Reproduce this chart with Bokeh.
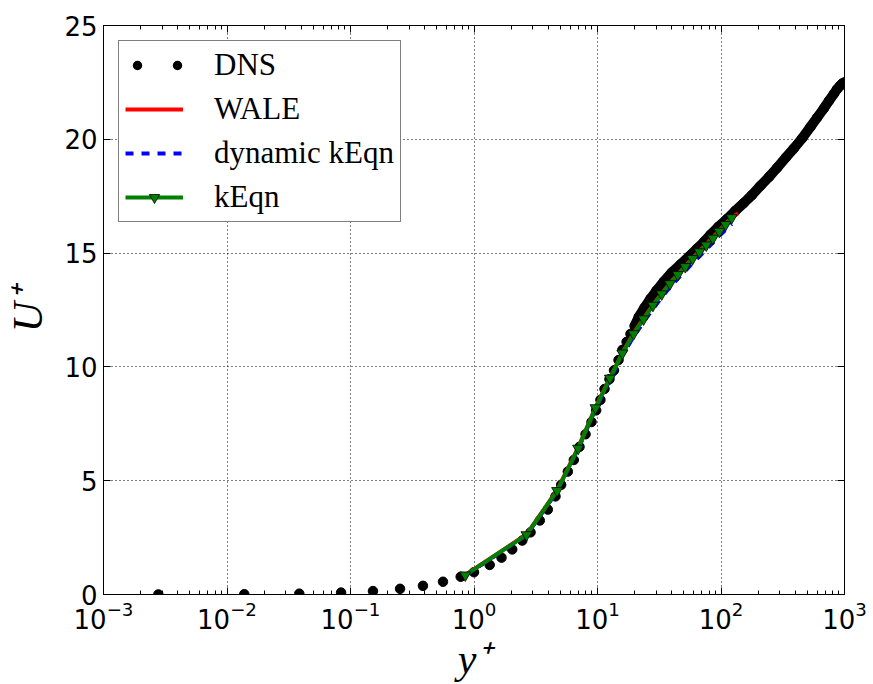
from bokeh.plotting import figure
from bokeh.models import (Range1d, FixedTicker, LogAxis, LinearAxis, Legend, LegendItem,
                          CustomJSTickFormatter)
from bokeh.embed import file_html
from bokeh.resources import INLINE

# ---------------- data ----------------
dns_yplus = [0.00278, 0.0138, 0.0385, 0.0839, 0.152, 0.252, 0.386, 0.561, 0.78,
             1.0, 1.34, 1.67, 2.04, 2.46, 2.87, 3.41, 3.96, 4.57, 5.08, 5.75, 6.43,
             7.15, 8.0, 8.94, 9.75, 10.56, 11.4, 12.5, 13.6, 14.8, 15.9, 17.2, 18.5,
             20.0, 21.6, 24.0, 26.9, 30.0, 34.4, 40.0, 47.0, 55.0, 64.0, 73.0, 82.0,
             95.0, 112.0, 130.0, 153.0, 178.0, 208.0, 245.0, 285.0, 335.0, 389.0,
             455.0, 531.0, 600.0, 679.0, 750.0, 820.0, 870.0, 920.0, 960.0, 1000.0]
dns_uplus = [0.003, 0.014, 0.038, 0.084, 0.15, 0.25, 0.38, 0.56, 0.78,
             0.98, 1.3, 1.62, 1.98, 2.37, 2.73, 3.25, 3.73, 4.31, 4.82, 5.4, 5.91,
             6.49, 7.04, 7.58, 8.09, 8.55, 9.03, 9.46, 9.85, 10.3, 10.75, 11.1, 11.45,
             11.8, 12.2, 12.6, 13.0, 13.35, 13.75, 14.15, 14.5, 14.85, 15.2, 15.5, 15.8,
             16.15, 16.5, 16.85, 17.2, 17.55, 17.95, 18.35, 18.75, 19.2, 19.6,
             20.05, 20.55, 20.95, 21.35, 21.7, 22.0, 22.2, 22.35, 22.45, 22.5]

les_yplus = [0.85, 2.66, 4.71, 6.97, 9.64, 12.6, 15.9, 19.6, 23.6, 28.1, 33.1,
             38.6, 44.7, 51.4, 58.8, 67.0, 76.0, 86.0, 97.0, 109.0, 122.0]
wale_yplus = les_yplus + [137.0]
wale_uplus = [0.86, 2.64, 4.58, 6.45, 8.22, 9.52, 10.62, 11.48, 12.13, 12.73, 13.23,
              13.68, 14.08, 14.43, 14.78, 15.1, 15.4, 15.7, 16.0, 16.3, 16.55, 16.75]
dyn_uplus = [0.84, 2.6, 4.53, 6.38, 8.15, 9.43, 10.5, 11.33, 11.97, 12.55, 13.05,
             13.5, 13.88, 14.22, 14.56, 14.86, 15.16, 15.46, 15.76, 16.02, 16.28]
keqn_uplus = [0.85, 2.62, 4.56, 6.42, 8.2, 9.5, 10.6, 11.45, 12.1, 12.7, 13.2,
              13.65, 14.05, 14.4, 14.75, 15.05, 15.35, 15.65, 15.95, 16.25, 16.55]

x_ticks = [1e-3, 1e-2, 1e-1, 1e0, 1e1, 1e2, 1e3]
y_ticks = [0, 5, 10, 15, 20, 25]
x_minor = [m * 10.0 ** e for e in range(-3, 3) for m in range(2, 10)]

# ---------------- figure ----------------
p = figure(width=873, height=684, x_axis_type="log",
           x_range=Range1d(1e-3, 1e3), y_range=Range1d(0, 25),
           output_backend="svg", toolbar_location=None,
           min_border_left=103, min_border_right=29,
           min_border_top=25, min_border_bottom=85)
p.background_fill_color = "white"
p.border_fill_color = "white"
p.outline_line_color = "black"
p.outline_line_width = 1

xt = FixedTicker(ticks=x_ticks, minor_ticks=x_minor)
yt = FixedTicker(ticks=y_ticks)

tick_font = "DejaVu Sans"
tick_size = "26px"

for ax in (p.xaxis[0], p.yaxis[0]):
    ax.major_tick_in = 7
    ax.major_tick_out = 0
    ax.minor_tick_in = 4
    ax.minor_tick_out = 0
    ax.axis_line_color = "black"
    ax.major_tick_line_color = "black"
    ax.minor_tick_line_color = "black"
    ax.major_label_text_font = tick_font
    ax.major_label_text_font_size = tick_size
    ax.major_label_text_color = "black"
    ax.axis_label_text_font = "Liberation Serif"
    ax.axis_label_text_font_style = "italic"
    ax.axis_label_text_font_size = "42px"
    ax.axis_label_text_color = "black"

p.xaxis[0].ticker = xt
p.yaxis[0].ticker = yt
p.yaxis[0].minor_tick_line_color = None
p.xaxis[0].axis_label = "y\u207a"
p.yaxis[0].axis_label = "U\u207a"
p.xaxis[0].major_label_standoff = 6
p.yaxis[0].major_label_standoff = 6
p.xaxis[0].axis_label_standoff = 4
p.yaxis[0].axis_label_standoff = 10

blank = CustomJSTickFormatter(code="return ''")
top = LogAxis(ticker=xt, formatter=blank, major_tick_in=7, major_tick_out=0,
              minor_tick_in=4, minor_tick_out=0, axis_line_color="black")
right = LinearAxis(ticker=yt, formatter=blank, major_tick_in=7, major_tick_out=0,
                   minor_tick_line_color=None, axis_line_color="black")
p.add_layout(top, "above")
p.add_layout(right, "right")

for g in (p.xgrid[0], p.ygrid[0]):
    g.grid_line_color = "black"
    g.grid_line_dash = "1 3"
    g.grid_line_width = 1
    g.grid_line_alpha = 1.0
p.xgrid[0].ticker = xt
p.ygrid[0].ticker = yt

# ---------------- glyphs ----------------
dense_x = [v for v in dns_yplus if v >= 20.0]
dense_y = [u for v, u in zip(dns_yplus, dns_uplus) if v >= 20.0]

p.scatter(dns_yplus, dns_uplus, size=9.5, color="black", marker="circle")
p.line(dense_x, dense_y, line_width=10, color="black",
       line_cap="round", line_join="round")
dns_leg = p.line(dense_x, dense_y, line_width=9.5, color="black",
                 line_cap="round", line_dash="0 40", line_dash_offset=28)

r_wale = p.line(wale_yplus, wale_uplus, line_width=4, color="#ff0000")
r_dyn = p.line(les_yplus, dyn_uplus, line_width=4, color="#0000ff", line_dash="8 8")
r_keqn = p.line(les_yplus, keqn_uplus, line_width=4, color="#008000")
r_keqn_m = p.scatter(les_yplus, keqn_uplus, marker="inverted_triangle", size=11,
                     fill_color="#008000", line_color="black", line_width=0.8)

legend = Legend(items=[
    LegendItem(label="DNS", renderers=[dns_leg]),
    LegendItem(label="WALE", renderers=[r_wale]),
    LegendItem(label="dynamic kEqn", renderers=[r_dyn]),
    LegendItem(label="kEqn", renderers=[r_keqn, r_keqn_m]),
], location="top_left")
legend.margin = 15
legend.padding = 6
legend.spacing = 8
legend.glyph_width = 58
legend.glyph_height = 26
legend.label_height = 26
legend.label_standoff = 31
legend.label_text_font = "Liberation Serif"
legend.label_text_font_size = "31px"
legend.label_text_color = "black"
legend.border_line_color = "black"
legend.border_line_width = 1
legend.background_fill_color = "white"
legend.background_fill_alpha = 1.0
p.add_layout(legend)

open("out.html", "w").write(file_html(p, INLINE))
